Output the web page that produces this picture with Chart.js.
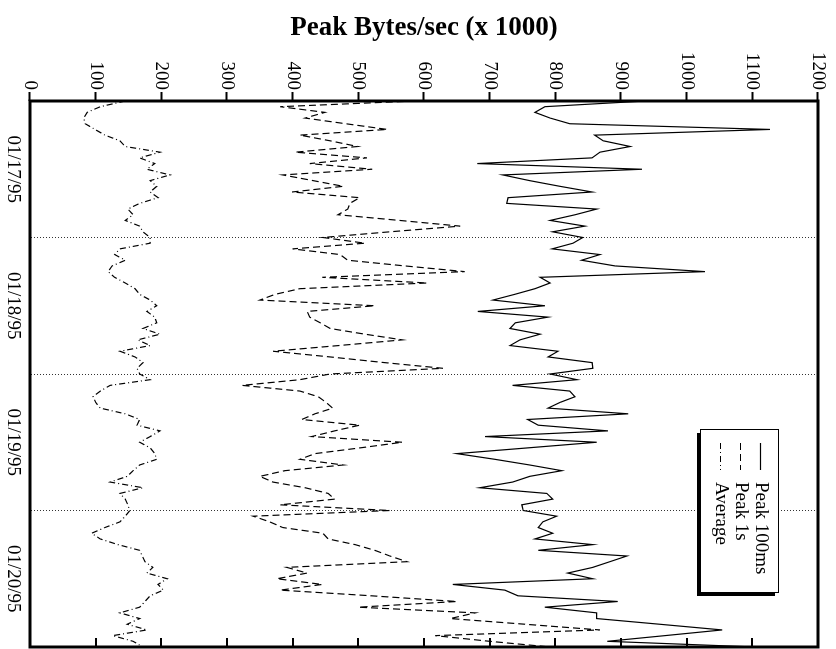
<!DOCTYPE html>
<html>
<head>
<meta charset="utf-8">
<title>Peak Bytes/sec</title>
<script src="https://cdn.jsdelivr.net/npm/chart.js@4.4.1/dist/chart.umd.min.js"></script>
<style>
  html, body { margin: 0; padding: 0; background: #fff; overflow: hidden; width: 836px; height: 649px; }
  /* The plot is laid out as a normal landscape chart, then turned a quarter turn clockwise. */
  #wrap { position: absolute; left: 0; top: 0; width: 649px; height: 836px;
          transform-origin: 0 0; transform: translateX(836px) rotate(90deg); }
  canvas { display: block; }
</style>
</head>
<body>
<div id="wrap"><canvas id="c" width="649" height="836"></canvas></div>
<script>
// Day labels, centred on each day; hourly samples over four days.
const dayLabels = ['01/17/95', '01/18/95', '01/19/95', '01/20/95'];
const dayTickHours = [0, 12, 24, 36, 48, 60, 72, 84, 96];
const valueTicks = [0, 100, 200, 300, 400, 500, 600, 700, 800, 900, 1000, 1100, 1200];

// Peak bytes/sec (x 1000) measured over 100 ms windows
const peak100ms = [
  937, 784, 769, 792, 822, 1127, 860, 873, 914, 868, 856, 681, 932, 720, 761, 807,
  856, 728, 726, 863, 830, 792, 845, 796, 842, 827, 795, 868, 840, 891, 1028, 777,
  792, 769, 738, 705, 784, 682, 789, 739, 731, 777, 746, 731, 804, 789, 856, 857,
  792, 833, 735, 822, 830, 807, 789, 911, 758, 774, 880, 693, 863, 757, 650, 708,
  761, 810, 761, 735, 685, 787, 796, 749, 751, 802, 781, 774, 796, 769, 857, 774,
  909, 883, 857, 819, 857, 644, 723, 743, 895, 784, 863, 863, 959, 1054, 967, 879,
  1104
];

// Peak bytes/sec (x 1000) measured over 1 s windows
const peak1s = [
  586, 381, 449, 419, 481, 544, 411, 457, 499, 404, 513, 426, 521, 385, 431, 477,
  399, 502, 487, 484, 469, 563, 655, 548, 446, 510, 400, 472, 484, 571, 662, 445,
  605, 411, 373, 350, 525, 422, 426, 442, 457, 510, 567, 470, 370, 457, 540, 629,
  457, 411, 323, 411, 439, 451, 461, 434, 414, 502, 464, 429, 567, 502, 434, 411,
  477, 388, 350, 370, 419, 454, 464, 381, 548, 340, 365, 385, 446, 454, 495, 525,
  548, 574, 391, 422, 376, 445, 381, 520, 650, 500, 678, 640, 754, 868, 617, 700,
  792
];

// Average bytes/sec (x 1000)
const average = [
  145, 107, 87, 82, 84, 99, 114, 137, 145, 198, 167, 190, 178, 213, 183, 193,
  183, 195, 167, 149, 157, 145, 167, 172, 183, 183, 137, 129, 145, 125, 119, 129,
  145, 160, 167, 183, 193, 178, 190, 193, 172, 198, 164, 183, 137, 160, 172, 163,
  167, 183, 122, 107, 96, 100, 107, 145, 167, 163, 198, 183, 167, 183, 190, 193,
  167, 157, 148, 122, 172, 137, 145, 149, 152, 145, 137, 114, 94, 107, 134, 167,
  171, 175, 187, 178, 209, 195, 203, 183, 175, 167, 137, 167, 148, 178, 126, 157,
  172
];

// Hour offset of each sample from the start of 01/17/95
const hourOffsets = peak100ms.map((_, i) => i);
const toPoints = arr => arr.map((v, i) => ({ x: hourOffsets[i], y: v }));

const serif = '"Liberation Serif", "Times New Roman", serif';

// Plot frame plus the inward tick marks on the far side of the value axis
const framePlugin = {
  id: 'frame',
  afterDraw(chart) {
    const { ctx, chartArea: a, scales: { y } } = chart;
    ctx.save();
    ctx.strokeStyle = '#000';
    ctx.lineWidth = 2;
    y.ticks.forEach(t => {
      const py = Math.round(y.getPixelForValue(t.value));
      ctx.beginPath();
      ctx.moveTo(a.right, py);
      ctx.lineTo(a.right - 9, py);
      ctx.stroke();
    });
    ctx.lineWidth = 3;
    ctx.strokeRect(a.left, a.top, a.right - a.left, a.bottom - a.top);
    ctx.restore();
  }
};

// Framed legend with a drop shadow, inside the plot area
const legendPlugin = {
  id: 'boxLegend',
  afterDraw(chart) {
    const { ctx, chartArea: a } = chart;
    const w = 163, h = 78;
    const x0 = a.right - 55 - w, y0 = a.top + 39;
    ctx.save();
    ctx.fillStyle = '#000';
    ctx.fillRect(x0 + 4, y0 + 4, w, h);
    ctx.fillStyle = '#fff';
    ctx.fillRect(x0, y0, w, h);
    ctx.strokeStyle = '#000';
    ctx.lineWidth = 1;
    ctx.strokeRect(x0 + 0.5, y0 + 0.5, w, h);
    ctx.font = '19px ' + serif;
    ctx.textBaseline = 'middle';
    ctx.textAlign = 'left';
    chart.data.datasets.forEach((ds, i) => {
      const cy = y0 + 18.5 + i * 20;
      ctx.setLineDash(ds.borderDash || []);
      ctx.lineWidth = ds.borderWidth;
      ctx.strokeStyle = ds.borderColor;
      ctx.beginPath();
      ctx.moveTo(x0 + 14, cy);
      ctx.lineTo(x0 + 41, cy);
      ctx.stroke();
      ctx.setLineDash([]);
      ctx.fillStyle = '#000';
      ctx.fillText(ds.label, x0 + 53, cy);
    });
    ctx.restore();
  }
};

const lineStyle = { borderColor: '#000', borderWidth: 1.2, pointRadius: 0, tension: 0, fill: false };

new Chart(document.getElementById('c'), {
  type: 'line',
  data: {
    datasets: [
      Object.assign({ label: 'Peak 100ms', data: toPoints(peak100ms), borderDash: [] }, lineStyle),
      Object.assign({ label: 'Peak 1s', data: toPoints(peak1s), borderDash: [7, 4] }, lineStyle),
      Object.assign({ label: 'Average', data: toPoints(average), borderDash: [6, 3, 1, 3] }, lineStyle)
    ]
  },
  options: {
    responsive: false,
    animation: false,
    devicePixelRatio: 1,
    layout: { padding: { left: 0, right: 2, top: 18, bottom: 0 } },
    plugins: { legend: { display: false }, tooltip: { enabled: false } },
    scales: {
      x: {
        type: 'linear',
        min: 0,
        max: 96,
        afterBuildTicks: s => { s.ticks = dayTickHours.map(v => ({ value: v })); },
        afterFit: s => { s.height = 30; s.paddingLeft = 0; s.paddingRight = 0; },
        ticks: {
          autoSkip: false, maxRotation: 0, minRotation: 0, padding: 6, color: '#000',
          font: { family: serif, size: 19 },
          callback: v => (v % 24 === 12 ? dayLabels[(v - 12) / 24] : '')
        },
        grid: {
          drawTicks: false,
          lineWidth: 1,
          color: c => (c.tick && c.tick.value % 24 === 0 && c.tick.value > 0 && c.tick.value < 96) ? '#333' : 'rgba(0,0,0,0)'
        },
        border: { display: false, dash: [1, 2] }
      },
      y: {
        min: 0,
        max: 1200,
        afterBuildTicks: s => { s.ticks = valueTicks.map(v => ({ value: v })); },
        afterFit: s => { s.width = 101; },
        ticks: { color: '#000', padding: 2, font: { family: serif, size: 19 }, callback: v => String(v) },
        grid: { drawOnChartArea: false, drawTicks: true, tickLength: 9, tickWidth: 2, tickColor: '#000' },
        border: { display: false },
        title: {
          display: true,
          text: 'Peak Bytes/sec (x 1000)',
          color: '#000',
          font: { family: serif, size: 27, weight: 'bold' },
          padding: { top: 12, bottom: 0 }
        }
      }
    }
  },
  plugins: [framePlugin, legendPlugin]
});
</script>
</body>
</html>
